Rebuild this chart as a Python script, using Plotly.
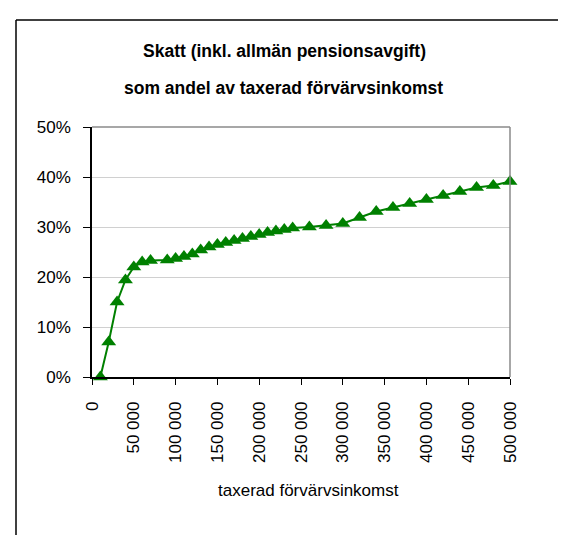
import plotly.graph_objects as go

# taxable income (kr) and tax share (%)
income = [10000, 20000, 30000, 40000, 50000, 60000, 70000, 90000, 100000,
          110000, 120000, 130000, 140000, 150000, 160000, 170000, 180000,
          190000, 200000, 210000, 220000, 230000, 240000, 260000, 280000,
          300000, 320000, 340000, 360000, 380000, 400000, 420000, 440000,
          460000, 480000, 500000]
tax_share = [0.0, 7.0, 15.0, 19.4, 22.0, 23.0, 23.3, 23.4, 23.7,
             24.1, 24.6, 25.4, 26.0, 26.5, 26.9, 27.3, 27.7,
             28.1, 28.5, 28.9, 29.2, 29.5, 29.8, 30.0, 30.3,
             30.7, 31.9, 33.1, 33.9, 34.7, 35.5, 36.3, 37.1,
             37.9, 38.3, 39.1]

x_tickvals = [0, 50000, 100000, 150000, 200000, 250000, 300000, 350000,
              400000, 450000, 500000]
x_ticktext = ["0", "50 000", "100 000", "150 000", "200 000", "250 000",
              "300 000", "350 000", "400 000", "450 000", "500 000"]
y_tickvals = [0, 10, 20, 30, 40, 50]
y_ticktext = ["0%", "10%", "20%", "30%", "40%", "50%"]

title_1 = "Skatt (inkl. allmän pensionsavgift)"
title_2 = "som andel av taxerad förvärvsinkomst"
x_title = "taxerad förvärvsinkomst"

FONT = "Liberation Sans, Arial, sans-serif"
GREEN = "rgb(0,128,0)"

# plot area in pixels: x 84..502, y 119..369
W, H = 566, 535
L, R, T, B = 84, 64, 119, 166
pw, ph = W - L - R, H - T - B


def px(x):
    return (x - L) / pw


def py(y):
    return (H - B - y) / ph


fig = go.Figure()

fig.add_trace(
    go.Scatter(
        x=income,
        y=tax_share,
        mode="lines+markers",
        line=dict(color=GREEN, width=2),
        marker=dict(symbol="triangle-up", size=13, color=GREEN),
        cliponaxis=False,
        showlegend=False,
    )
)

fig.update_layout(
    width=W,
    height=H,
    margin=dict(l=L, r=R, t=T, b=B),
    paper_bgcolor="white",
    plot_bgcolor="white",
    font=dict(family=FONT, size=17, color="black"),
    showlegend=False,
)

fig.update_xaxes(
    range=[0, 500000],
    tickvals=x_tickvals,
    ticktext=x_ticktext,
    tickangle=-90,
    ticks="outside",
    ticklen=6,
    tickcolor="black",
    ticklabelstandoff=10,
    showline=True,
    linecolor="black",
    linewidth=1.5,
    showgrid=False,
    zeroline=False,
    tickfont=dict(size=17),
)

fig.update_yaxes(
    range=[0, 50],
    tickvals=y_tickvals,
    ticktext=y_ticktext,
    ticks="outside",
    ticklen=7,
    tickcolor="black",
    ticklabelstandoff=9,
    showline=True,
    linecolor="black",
    linewidth=1.5,
    showgrid=True,
    gridcolor="#d0d0d0",
    gridwidth=1,
    zeroline=False,
    tickfont=dict(size=17),
)

# grey border on top and right of the plot area
fig.add_shape(type="line", xref="paper", yref="paper", x0=0, x1=1, y0=1, y1=1,
              line=dict(color="#8a8a8a", width=1.5))
fig.add_shape(type="line", xref="paper", yref="paper", x0=1, x1=1, y0=0, y1=1,
              line=dict(color="#8a8a8a", width=1.5))

# outer chart frame
fig.add_shape(type="line", xref="paper", yref="paper",
              x0=px(8), x1=px(8), y0=py(12), y1=py(H + 5),
              line=dict(color="black", width=1.5))
fig.add_shape(type="line", xref="paper", yref="paper",
              x0=px(8), x1=px(557), y0=py(12), y1=py(12),
              line=dict(color="black", width=1.5))
fig.add_shape(type="line", xref="paper", yref="paper",
              x0=px(557), x1=px(557), y0=py(12), y1=py(455),
              line=dict(color="black", width=1.5))

# titles
fig.add_annotation(text="<b>" + title_1 + "</b>", xref="paper", yref="paper",
                   x=px(276), y=py(43), xanchor="center", yanchor="middle",
                   showarrow=False, font=dict(family=FONT, size=17.5, color="black"))
fig.add_annotation(text="<b>" + title_2 + "</b>", xref="paper", yref="paper",
                   x=px(275), y=py(80), xanchor="center", yanchor="middle",
                   showarrow=False, font=dict(family=FONT, size=17.5, color="black"))
fig.add_annotation(text=x_title, xref="paper", yref="paper",
                   x=px(300), y=py(482), xanchor="center", yanchor="middle",
                   showarrow=False, font=dict(family=FONT, size=17, color="black"))

fig.write_html("out.html")
